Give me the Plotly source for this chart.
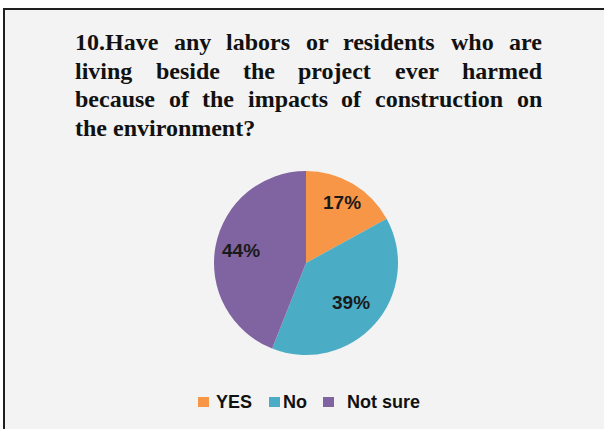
import math
import plotly.graph_objects as go

# Survey answers
categories = ["YES", "No", "Not sure"]
shares = [17, 39, 44]
colors = ["#F79646", "#4BACC6", "#8064A2"]

title_lines = [
    "10.Have any labors or residents who are",
    "living beside the project ever harmed",
    "because of the impacts of construction on",
    "the environment?",
]

W, H = 604, 429


def px(x):
    return x / W


def py(y):
    return 1 - y / H


# Approximate advance widths (em) of a bold Times face, used to justify the title
TIMES_BOLD = {
    "a": .5, "b": .556, "c": .444, "d": .556, "e": .444, "f": .333, "g": .5,
    "h": .556, "i": .278, "j": .333, "k": .556, "l": .278, "m": .833, "n": .556,
    "o": .5, "p": .556, "q": .556, "r": .444, "s": .389, "t": .333, "u": .556,
    "v": .5, "w": .722, "x": .5, "y": .5, "z": .444, "H": .778, ".": .25,
    "?": .5, " ": .25,
}
for d in "0123456789":
    TIMES_BOLD[d] = .5

TITLE_SIZE = 24
TITLE_LEFT, TITLE_RIGHT = 73, 540
TITLE_Y = [42, 70.5, 99, 127.5]
title_font = dict(family="Liberation Serif, Times New Roman, serif",
                  size=TITLE_SIZE, color="#111111", weight="bold")


def word_width(w):
    return sum(TIMES_BOLD.get(c, .5) for c in w) * TITLE_SIZE


annotations = []
for i, line in enumerate(title_lines):
    if i < len(title_lines) - 1:
        words = line.split(" ")
        widths = [word_width(w) for w in words]
        gap = (TITLE_RIGHT - TITLE_LEFT - sum(widths)) / (len(words) - 1)
        x = TITLE_LEFT
        for w, wd in zip(words, widths):
            annotations.append(dict(
                text=w, x=px(x), y=py(TITLE_Y[i]), xref="paper", yref="paper",
                xanchor="left", yanchor="middle", showarrow=False, font=title_font))
            x += wd + gap
    else:
        annotations.append(dict(
            text=line, x=px(TITLE_LEFT), y=py(TITLE_Y[i]), xref="paper", yref="paper",
            xanchor="left", yanchor="middle", showarrow=False, font=title_font))

# Legend drawn as swatches and labels
legend_font = dict(family="Liberation Sans, Arial, sans-serif", size=18,
                   color="#111111", weight="bold")
swatch_x = [198, 269, 323]
label_x = [214, 281, 345]
legend_y = 402
shapes = [
    # panel with a dark frame
    dict(type="rect", xref="paper", yref="paper",
         x0=px(4), x1=px(W + 10), y0=py(9), y1=py(H + 10),
         fillcolor="#f3f3f3", line=dict(color="#1f1f1f", width=2), layer="below"),
]
for sx, lx, cat, col in zip(swatch_x, label_x, categories, colors):
    shapes.append(dict(type="rect", xref="paper", yref="paper",
                       x0=px(sx), x1=px(sx + 11), y0=py(legend_y + 5), y1=py(legend_y - 5),
                       fillcolor=col, line=dict(width=0), layer="above"))
    annotations.append(dict(text=cat, x=px(lx), y=py(legend_y), xref="paper", yref="paper",
                            xanchor="left", yanchor="middle", showarrow=False,
                            font=legend_font))

cx, cy, r = 306, 263, 92

# Percentage labels placed at each slice's mid-angle (clockwise from 12 o'clock)
label_radius = [0.76, 0.65, 0.72]
label_font = dict(family="Liberation Sans, Arial, sans-serif", size=19,
                  color="#1a1a1a", weight="bold")
total = sum(shares)
start = 0.0
for v, f in zip(shares, label_radius):
    mid = math.radians((start + v / 2) / total * 360)
    lx = cx + f * r * math.sin(mid)
    ly = cy - f * r * math.cos(mid)
    annotations.append(dict(text=f"{round(v / total * 100)}%", x=px(lx), y=py(ly),
                            xref="paper", yref="paper", xanchor="center",
                            yanchor="middle", showarrow=False, font=label_font))
    start += v

fig = go.Figure(go.Pie(
    labels=categories,
    values=shares,
    marker=dict(colors=colors, line=dict(width=0)),
    sort=False,
    direction="clockwise",
    rotation=0,
    textinfo="none",
    domain=dict(x=[px(cx - r), px(cx + r)], y=[py(cy + r), py(cy - r)]),
    showlegend=False,
    hoverinfo="label+percent",
))

fig.update_layout(
    width=W, height=H,
    margin=dict(l=0, r=0, t=0, b=0),
    paper_bgcolor="white",
    plot_bgcolor="white",
    shapes=shapes,
    annotations=annotations,
)

fig.write_html("out.html")
